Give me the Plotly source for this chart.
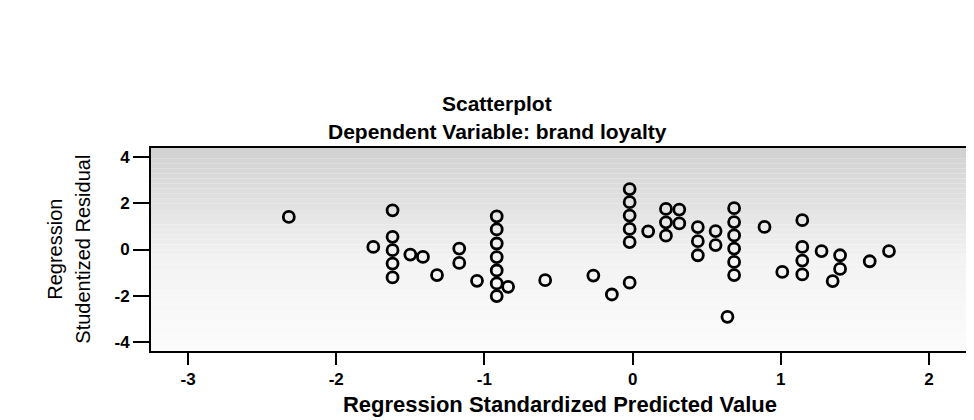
import plotly.graph_objects as go

# Regression standardized predicted values (x) and studentized residuals (y)
x_pred = [-2.32, -1.75, -1.62, -1.62, -1.62, -1.62, -1.62, -1.50, -1.415, -1.32,
          -1.17, -1.17, -1.05, -0.917, -0.917, -0.917, -0.917, -0.917, -0.917, -0.917,
          -0.84, -0.59, -0.265, -0.14, -0.02, -0.02, -0.02, -0.02, -0.02, -0.02,
          0.105, 0.225, 0.225, 0.225, 0.315, 0.315, 0.44, 0.44, 0.44, 0.56,
          0.56, 0.685, 0.685, 0.685, 0.685, 0.685, 0.685, 0.64, 0.89, 1.01,
          1.145, 1.145, 1.145, 1.145, 1.275, 1.40, 1.40, 1.35, 1.60, 1.73]
y_resid = [1.41, 0.11, 1.70, 0.55, -0.03, -0.61, -1.21, -0.22, -0.32, -1.11,
           0.04, -0.58, -1.36, 1.44, 0.87, 0.26, -0.33, -0.91, -1.47, -2.02,
           -1.62, -1.33, -1.13, -1.95, -1.44, 2.62, 2.05, 1.47, 0.89, 0.32,
           0.79, 1.76, 1.18, 0.60, 1.73, 1.13, 0.97, 0.36, -0.25, 0.80,
           0.19, 1.79, 1.19, 0.61, 0.04, -0.54, -1.11, -2.92, 0.98, -0.97,
           1.27, 0.11, -0.48, -1.08, -0.07, -0.25, -0.84, -1.37, -0.51, -0.07]

x_ticks = [-3, -2, -1, 0, 1, 2]
y_ticks = [-4, -2, 0, 2, 4]

title_1 = "Scatterplot"
title_2 = "Dependent Variable: brand loyalty"
x_title = "Regression Standardized Predicted Value"
y_title_1 = "Regression"
y_title_2 = "Studentized Residual"

FONT = "Liberation Sans, Arial, sans-serif"
L, R, T, B, W, H = 143, 11, 140, 77, 974, 420
PW = W - L - R

fig = go.Figure()
fig.add_trace(go.Scatter(
    x=x_pred, y=y_resid, mode="markers",
    marker=dict(symbol="circle-open", size=11, color="black", line=dict(width=2.8)),
    showlegend=False, hoverinfo="skip",
))

# Stippled grey background fading from top to bottom
n_bands = 40
for i in range(n_bands):
    t = i / (n_bands - 1)
    if t < 0.55:
        g = 210 + (243 - 210) * t / 0.55
    else:
        g = 243 + (252 - 243) * (t - 0.55) / 0.45
    g = int(g)
    fig.add_shape(type="rect", xref="x domain", yref="y domain",
                  x0=0, x1=1, y0=1 - (i + 1) / n_bands, y1=1 - i / n_bands,
                  fillcolor=f"rgb({g},{g},{g})", line=dict(width=0), layer="below")

# heavier right-hand frame edge, as in the original
fig.add_shape(type="line", xref="x domain", yref="y domain",
              x0=1, x1=1, y0=0, y1=1, line=dict(color="black", width=3.5))

title_cx = (490 - L) / PW
fig.add_annotation(text=f"<b>{title_1}</b>", xref="paper", yref="paper",
                   x=title_cx, y=1, yshift=31, xanchor="center", yanchor="bottom",
                   showarrow=False, font=dict(family=FONT, size=21, color="black"))
fig.add_annotation(text=f"<b>{title_2}</b>", xref="paper", yref="paper",
                   x=title_cx, y=1, yshift=3, xanchor="center", yanchor="bottom",
                   showarrow=False, font=dict(family=FONT, size=21, color="black"))

for txt, px in [(y_title_1, 46), (y_title_2, 74)]:
    fig.add_annotation(text=txt, xref="paper", yref="paper",
                       x=(px - L) / PW, y=0.5, xanchor="center", yanchor="middle",
                       textangle=-90, showarrow=False,
                       font=dict(family=FONT, size=20, color="black"))

fig.update_xaxes(range=[-3.25, 2.27], tickvals=x_ticks,
                 ticktext=[f"<b>{v}</b>" for v in x_ticks],
                 showgrid=False, zeroline=False, showline=True, mirror=True,
                 linecolor="black", linewidth=2, ticks="outside", ticklen=12, tickwidth=2,
                 tickcolor="black", tickfont=dict(family=FONT, size=17, color="black"),
                 title=dict(text=f"<b>{x_title}</b>", standoff=8,
                            font=dict(family=FONT, size=22, color="black")))
fig.update_yaxes(range=[-4.4, 4.4], tickvals=y_ticks,
                 ticktext=[f"<b>{v}</b>" for v in y_ticks],
                 showgrid=False, zeroline=False, showline=True, mirror=True,
                 linecolor="black", linewidth=2, ticks="outside", ticklen=16, tickwidth=2,
                 tickcolor="black", tickfont=dict(family=FONT, size=17, color="black"))

fig.update_layout(width=W, height=H,
                  margin=dict(l=L, r=R, t=T, b=B),
                  paper_bgcolor="white", plot_bgcolor="white",
                  font=dict(family=FONT, color="black"))

fig.write_html("out.html")
